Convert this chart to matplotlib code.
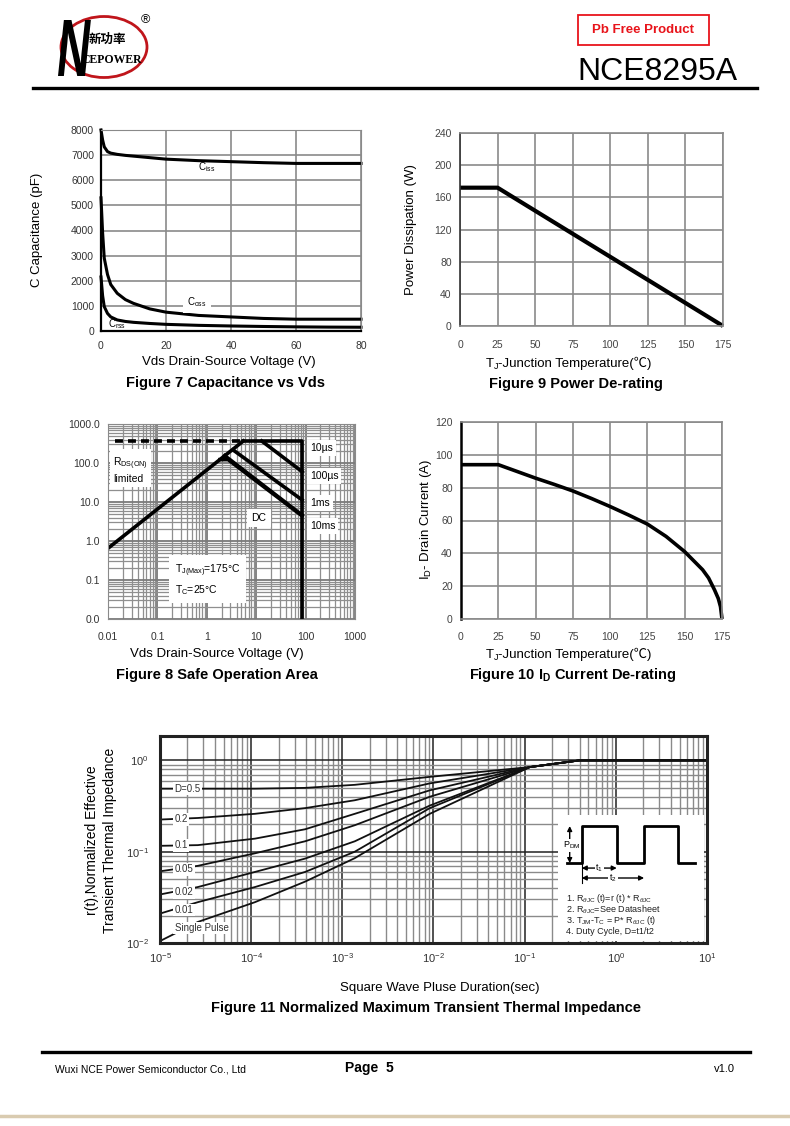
import numpy as np
import matplotlib
matplotlib.use('Agg')
import matplotlib.pyplot as plt
from matplotlib.patches import Ellipse, Rectangle, PathPatch
from matplotlib.textpath import TextPath
from matplotlib.font_manager import FontProperties
from matplotlib.transforms import Affine2D
from matplotlib.ticker import FixedLocator, FixedFormatter, LogLocator, NullFormatter

plt.rcParams['font.family'] = ['Liberation Sans', 'Noto Sans CJK SC', 'DejaVu Sans']
plt.rcParams['mathtext.fontset'] = 'custom'
plt.rcParams['mathtext.rm'] = 'Liberation Sans'
plt.rcParams['mathtext.it'] = 'Liberation Sans:italic'
plt.rcParams['mathtext.bf'] = 'Liberation Sans:bold'

W, H = 790, 1126

# ---- Figure 7 : capacitance vs Vds
vds_cap = [0, 0.5, 1, 2, 3, 5, 7.5, 10, 15, 20, 30, 40, 50, 60, 70, 80]
ciss = [8000, 7600, 7330, 7140, 7080, 7030, 6990, 6960, 6900, 6840, 6780, 6740, 6700, 6670, 6670, 6670]
coss = [5300, 3900, 2900, 2250, 1850, 1500, 1250, 1100, 880, 750, 620, 560, 500, 470, 470, 470]
crss = [2150, 1400, 970, 700, 560, 440, 380, 345, 300, 265, 225, 200, 180, 165, 155, 150]

# ---- Figure 9 : power de-rating
tj_pd = [0, 25, 175]
pd_w = [172, 172, 0]

# ---- Figure 10 : current de-rating
tj_id = [0, 25, 50, 62.5, 75, 87.5, 100, 112.5, 125, 137.5, 150, 156, 162, 166, 170, 172.5, 174, 175]
id_a = [94, 94, 85.8, 82, 78, 73.4, 68.5, 63.3, 57.8, 50.3, 41, 35.5, 30, 25, 17.7, 12.5, 7.5, 0]

# ---- Figure 8 : safe operating area
soa_ticks = [0.01, 0.1, 1, 10, 100, 1000]
soa_xlabels = ['0.01', '0.1', '1', '10', '100', '1000']
soa_ylabels = ['0.0', '0.1', '1.0', '10.0', '100.0', '1000.0']
rds_v, rds_i = [0.01, 5.5], [0.65, 367]
pkg_v, pkg_i = [0.014, 5.5], [367, 367]
us10_v, us10_i = [5.5, 85, 85], [367, 367, 0.01]
us100_v, us100_i = [12.9, 85], [367, 60]
ms1_v, ms1_i = [3.4, 85], [216, 11.3]
ms10_v, ms10_i = [2.3, 85], [155, 4.6]
dc_v, dc_i = [1.85, 2.7, 85], [122, 122, 4.4]

# ---- Figure 11 : transient thermal impedance
t_pulse = [1e-5, 2.6e-5, 1.1e-4, 3.9e-4, 1.37e-3, 9.1e-3, 0.114, 0.4, 1, 10]
zth = {
    'D=0.5': [0.49, 0.49, 0.49, 0.50, 0.54, 0.66, 0.845, 1.0, 1.0, 1.0],
    '0.2': [0.225, 0.234, 0.26, 0.30, 0.366, 0.56, 0.845, 1.0, 1.0, 1.0],
    '0.1': [0.116, 0.118, 0.139, 0.176, 0.26, 0.47, 0.845, 1.0, 1.0, 1.0],
    '0.05': [0.061, 0.07, 0.096, 0.13, 0.195, 0.40, 0.845, 1.0, 1.0, 1.0],
    '0.02': [0.034, 0.041, 0.060, 0.084, 0.13, 0.32, 0.845, 1.0, 1.0, 1.0],
    '0.01': [0.021, 0.028, 0.041, 0.060, 0.10, 0.30, 0.845, 1.0, 1.0, 1.0],
    'Single Pulse': [0.0105, 0.017, 0.028, 0.047, 0.085, 0.26, 0.845, 1.0, 1.0, 1.0],
}
zth_label_y = {'D=0.5': 0.49, '0.2': 0.227, '0.1': 0.117, '0.05': 0.064,
               '0.02': 0.036, '0.01': 0.023, 'Single Pulse': 0.0146}


def add_ax(l, t, r, b):
    return fig.add_axes([l / W, 1 - b / H, (r - l) / W, (b - t) / H])


def ftext(x, y, s, **kw):
    return page.text(x, y, s, **kw)


def tj_label(x, y):
    # "T_J-Junction Temperature(℃)" built from pieces so the ℃ sign can fall back to another font
    t1 = ftext(x, y, 'T', fontsize=9.5, ha='left', va='baseline')
    t2 = page.annotate('J', xy=(1, 0), xycoords=t1, xytext=(0, -0.8), textcoords='offset points',
                       fontsize=6.5, ha='left', va='bottom')
    page.annotate('-Junction Temperature(℃)', xy=(1, 0), xycoords=(t2, t1),
                  fontsize=9.5, ha='left', va='bottom')


fig = plt.figure(figsize=(W / 100, H / 100), dpi=100)
page = fig.add_axes([0, 0, 1, 1])
page.set_xlim(0, W)
page.set_ylim(H, 0)
page.axis('off')

# header / logo
page.add_patch(Ellipse((104, 47), 86, 61, fill=False, ec='#c0151b', lw=2))
n_path = TextPath((0, 0), 'N', size=50, prop=FontProperties(family='Liberation Sans', weight='bold'))
ext = n_path.get_extents()
n_tr = (Affine2D().translate(-ext.x0, -ext.y0).scale(27 / ext.width, -56 / ext.height)
        .skew_deg(-6, 0).translate(58, 76) + page.transData)
page.add_patch(PathPatch(n_path, transform=n_tr, fc='black', ec='none', zorder=3))
ftext(107, 39, '新功率', fontsize=9, fontweight='bold', family='Noto Sans CJK SC', ha='center', va='center')
ftext(112, 60, 'CEPOWER', fontsize=8.5, fontweight='bold', family='Liberation Serif', ha='center', va='center')
ftext(145, 20, '®', fontsize=9, ha='center', va='center')
page.add_patch(Rectangle((578, 15), 131, 30, fill=False, ec='#e8141b', lw=1.3))
ftext(643.5, 30, 'Pb Free Product', fontsize=9.5, fontweight='bold', color='#e8141b', ha='center', va='center')
ftext(737, 80, 'NCE8295A', fontsize=23, ha='right', va='baseline')
page.plot([33, 757], [88, 88], color='black', lw=2.4)

# footer
page.plot([42, 750], [1052, 1052], color='black', lw=2.4)
ftext(55, 1069, 'Wuxi NCE Power Semiconductor Co., Ltd', fontsize=7.5, ha='left', va='center')
ftext(345, 1068, 'Page  5', fontsize=10, fontweight='bold', ha='left', va='center')
ftext(735, 1069, 'v1.0', fontsize=8, ha='right', va='center')
page.plot([0, W], [1116, 1116], color='#d9cbb0', lw=2.5)

grid_c = '#8a8a8a'

# ---------- Figure 7
ax7 = add_ax(101, 130, 361, 331)
ax7.set_axisbelow(True)
ax7.plot(vds_cap, ciss, color='black', lw=2.2, clip_on=False)
ax7.plot(vds_cap, coss, color='black', lw=2.2, clip_on=False)
ax7.plot(vds_cap, crss, color='black', lw=2.2, clip_on=False)
ax7.set_xlim(0, 80)
ax7.set_ylim(0, 8000)
ax7.set_xticks([0, 20, 40, 60, 80])
ax7.set_yticks(range(0, 8001, 1000))
ax7.grid(True, color=grid_c, lw=1.2)
ax7.tick_params(length=0, labelsize=7.5, colors='#333333')
ax7.tick_params(axis='y', pad=5)
ax7.tick_params(axis='x', pad=7)
for s in ['top', 'right']:
    ax7.spines[s].set_color(grid_c)
for s in ['left', 'bottom']:
    ax7.spines[s].set_linewidth(1.6)
ax7.text(29.7, 6540, r'C$_{\rm iss}$', fontsize=7, va='center')
ax7.text(26.4, 1170, r'C$_{\rm oss}$', fontsize=7, va='center',
         bbox=dict(fc='white', ec='none', pad=3))
ax7.text(2.3, 290, r'C$_{\rm rss}$', fontsize=7, va='center')
ftext(37, 230, 'C Capacitance (pF)', fontsize=9.5, rotation=90, ha='center', va='center')
ftext(229, 362, 'Vds Drain-Source Voltage (V)', fontsize=9.5, ha='center', va='center')
ftext(225, 383, 'Figure 7 Capacitance vs Vds', fontsize=10.5, fontweight='bold', ha='center', va='center')

# ---------- Figure 9
ax9 = add_ax(460, 133, 723, 326)
ax9.set_axisbelow(True)
ax9.plot(tj_pd, pd_w, color='black', lw=3, clip_on=False, solid_capstyle='butt')
ax9.set_xlim(0, 175)
ax9.set_ylim(0, 240)
ax9.set_xticks(range(0, 176, 25))
ax9.set_yticks(range(0, 241, 40))
ax9.grid(True, color=grid_c, lw=1.2)
ax9.tick_params(length=0, labelsize=7.5, colors='#444444')
ax9.tick_params(axis='y', pad=6)
ax9.tick_params(axis='x', pad=10)
for s in ax9.spines.values():
    s.set_color(grid_c)
    s.set_linewidth(1.2)
ax9.spines['left'].set_color('#333333')
ftext(411, 230, 'Power Dissipation (W)', fontsize=9.5, rotation=90, ha='center', va='center')
tj_label(486, 367)
ftext(576, 384, 'Figure 9 Power De-rating', fontsize=10.5, fontweight='bold', ha='center', va='center')

# ---------- Figure 8
ax8 = add_ax(108, 424, 355, 619)
ax8.set_axisbelow(True)
ax8.set_xscale('log')
ax8.set_yscale('log')
ax8.set_xlim(0.01, 1000)
ax8.set_ylim(0.01, 1000)
ax8.plot(pkg_v, pkg_i, color='black', lw=2.6, ls=(0, (2.2, 1.4)))
ax8.plot(rds_v, rds_i, color='black', lw=2.6)
ax8.plot(us10_v, us10_i, color='black', lw=2.6)
ax8.plot(us100_v, us100_i, color='black', lw=2.6)
ax8.plot(ms1_v, ms1_i, color='black', lw=2.6)
ax8.plot(ms10_v, ms10_i, color='black', lw=2.6)
ax8.plot(dc_v, dc_i, color='black', lw=2.6)
ax8.xaxis.set_major_locator(FixedLocator(soa_ticks))
ax8.xaxis.set_major_formatter(FixedFormatter(soa_xlabels))
ax8.yaxis.set_major_locator(FixedLocator(soa_ticks))
ax8.yaxis.set_major_formatter(FixedFormatter(soa_ylabels))
ax8.xaxis.set_minor_locator(LogLocator(subs=np.arange(2, 10)))
ax8.yaxis.set_minor_locator(LogLocator(subs=np.arange(2, 10)))
ax8.xaxis.set_minor_formatter(NullFormatter())
ax8.yaxis.set_minor_formatter(NullFormatter())
ax8.grid(True, which='major', color='#7a7a7a', lw=1.3)
ax8.grid(True, which='minor', color='#8f8f8f', lw=0.9)
ax8.tick_params(which='both', length=0, labelsize=7.5, colors='#333333')
ax8.tick_params(axis='y', pad=6)
ax8.tick_params(axis='x', pad=9)
for s in ax8.spines.values():
    s.set_color(grid_c)
box = dict(fc='white', ec='none', pad=2)
ax8.text(0.818, 0.877, '10µs', transform=ax8.transAxes, fontsize=7.5, va='center', bbox=box)
ax8.text(0.818, 0.734, '100µs', transform=ax8.transAxes, fontsize=7.5, va='center', bbox=box)
ax8.text(0.818, 0.596, '1ms', transform=ax8.transAxes, fontsize=7.5, va='center', bbox=box)
ax8.text(0.818, 0.478, '10ms', transform=ax8.transAxes, fontsize=7.5, va='center', bbox=box)
ax8.text(0.611, 0.519, 'DC', transform=ax8.transAxes, fontsize=7.5, ha='center', va='center',
         bbox=dict(fc='white', ec='none', pad=3))
ax8.text(0.02, 0.765, 'R$_{\\rm DS(ON)}$\nlimited', transform=ax8.transAxes, fontsize=7.5,
         va='center', linespacing=1.3, bbox=box)
ax8.text(0.27, 0.2, 'T$_{\\rm J(Max)}$=175°C\nT$_{\\rm C}$=25°C', transform=ax8.transAxes,
         fontsize=7.5, va='center', linespacing=1.4, bbox=dict(fc='white', ec='none', pad=4))
ftext(217, 654, 'Vds Drain-Source Voltage (V)', fontsize=9.5, ha='center', va='center')
ftext(217, 675, 'Figure 8 Safe Operation Area', fontsize=10.5, fontweight='bold', ha='center', va='center')

# ---------- Figure 10
ax10 = add_ax(461, 422, 722, 619)
ax10.set_axisbelow(True)
ax10.plot(tj_id, id_a, color='black', lw=2.6, clip_on=False, solid_capstyle='butt')
ax10.set_xlim(0, 175)
ax10.set_ylim(0, 120)
ax10.set_xticks(range(0, 176, 25))
ax10.set_yticks(range(0, 121, 20))
ax10.grid(True, color=grid_c, lw=1.2)
ax10.tick_params(length=0, labelsize=7.5, colors='#444444')
ax10.tick_params(axis='y', pad=6)
ax10.tick_params(axis='x', pad=9)
for s in ax10.spines.values():
    s.set_color(grid_c)
    s.set_linewidth(1.2)
ax10.spines['left'].set_color('black')
ax10.spines['left'].set_linewidth(1.8)
ftext(426, 520, r'I$_{\rm D}$- Drain Current (A)', fontsize=9.5, rotation=90, ha='center', va='center')
tj_label(486, 658)
ftext(573, 675, r'Figure 10 I$_{\mathbf{D}}$ Current De-rating', fontsize=10.5, fontweight='bold',
      ha='center', va='center')

# ---------- Figure 11
ax11 = add_ax(160, 736, 707, 943)
ax11.set_axisbelow(True)
ax11.set_xscale('log')
ax11.set_yscale('log')
ax11.set_xlim(1e-5, 10)
ax11.set_ylim(0.01, 1.85)
for name, vals in zth.items():
    ax11.plot(t_pulse, vals, color='#111111', lw=1.3)
    ax11.text(1.45e-5, zth_label_y[name], name, fontsize=7, va='center', color='#333333',
              bbox=dict(fc='white', ec='none', pad=1), zorder=4)
ax11.xaxis.set_major_locator(FixedLocator([1e-5, 1e-4, 1e-3, 1e-2, 1e-1, 1, 10]))
ax11.xaxis.set_major_formatter(FixedFormatter(['$10^{-5}$', '$10^{-4}$', '$10^{-3}$', '$10^{-2}$',
                                               '$10^{-1}$', '$10^{0}$', '$10^{1}$']))
ax11.yaxis.set_major_locator(FixedLocator([0.01, 0.1, 1]))
ax11.yaxis.set_major_formatter(FixedFormatter(['$10^{-2}$', '$10^{-1}$', '$10^{0}$']))
ax11.xaxis.set_minor_locator(LogLocator(subs=np.arange(2, 10)))
ax11.yaxis.set_minor_locator(LogLocator(subs=np.arange(2, 10)))
ax11.xaxis.set_minor_formatter(NullFormatter())
ax11.yaxis.set_minor_formatter(NullFormatter())
ax11.grid(True, which='major', color='#222222', lw=1.1)
ax11.grid(True, which='minor', color='#8a8a8a', lw=1.0)
ax11.tick_params(which='both', length=0, labelsize=8, colors='#333333')
ax11.tick_params(axis='y', pad=8)
ax11.tick_params(axis='x', pad=6)
for s in ax11.spines.values():
    s.set_linewidth(2.2)
    s.set_color('#222222')

# inset: pulse train and notes
ax11.add_patch(Rectangle((0.728, 0.008), 0.266, 0.61, transform=ax11.transAxes,
                         fc='white', ec='none', zorder=1))
bl, tp = 0.386, 0.565
ax11.plot([0.744, 0.771, 0.771, 0.835, 0.835, 0.885, 0.885, 0.947, 0.947, 0.978],
          [bl, bl, tp, tp, bl, bl, tp, tp, bl, bl], transform=ax11.transAxes,
          color='black', lw=2, zorder=3)
arrow = dict(arrowstyle='<|-|>', color='black', lw=1, mutation_scale=7, shrinkA=0, shrinkB=0)
ax11.annotate('', xy=(0.749, tp), xytext=(0.749, bl), xycoords='axes fraction', arrowprops=arrow, zorder=3)
ax11.text(0.752, 0.47, r'P$_{\rm DM}$', transform=ax11.transAxes, fontsize=6.5, ha='center', va='center',
          bbox=dict(fc='white', ec='none', pad=0.5), zorder=4)
ax11.annotate('', xy=(0.835, 0.362), xytext=(0.771, 0.362), xycoords='axes fraction', arrowprops=arrow, zorder=3)
ax11.text(0.803, 0.362, r't$_1$', transform=ax11.transAxes, fontsize=6.5, ha='center', va='center',
          bbox=dict(fc='white', ec='none', pad=0.5), zorder=4)
ax11.annotate('', xy=(0.885, 0.314), xytext=(0.771, 0.314), xycoords='axes fraction', arrowprops=arrow, zorder=3)
ax11.text(0.828, 0.314, r't$_2$', transform=ax11.transAxes, fontsize=6.5, ha='center', va='center',
          bbox=dict(fc='white', ec='none', pad=0.5), zorder=4)
ax11.plot([0.771, 0.771], [0.29, 0.38], transform=ax11.transAxes, color='black', lw=0.8, zorder=3)
notes = [r'1. R$_{\theta\rm JC}$ (t)=r (t) * R$_{\theta\rm JC}$',
         r'2. R$_{\theta\rm JC}$=See Datasheet',
         r'3. T$_{\rm JM}$-T$_{\rm C}$ = P* R$_{\theta\rm JC}$ (t)',
         '4. Duty Cycle, D=t1/t2']
for k, line in enumerate(notes):
    ax11.text(0.742, 0.213 - 0.053 * k, line, transform=ax11.transAxes, fontsize=6.5,
              va='center', color='#222222', zorder=4)

ftext(92, 840, 'r(t),Normalized Effective', fontsize=10, rotation=90, ha='center', va='center')
ftext(110, 840, 'Transient Thermal Impedance', fontsize=10, rotation=90, ha='center', va='center')
ftext(440, 988, 'Square Wave Pluse Duration(sec)', fontsize=9.5, ha='center', va='center')
ftext(426, 1008, 'Figure 11 Normalized Maximum Transient Thermal Impedance', fontsize=10.5,
      fontweight='bold', ha='center', va='center')

fig.savefig('out.png', dpi=100)
